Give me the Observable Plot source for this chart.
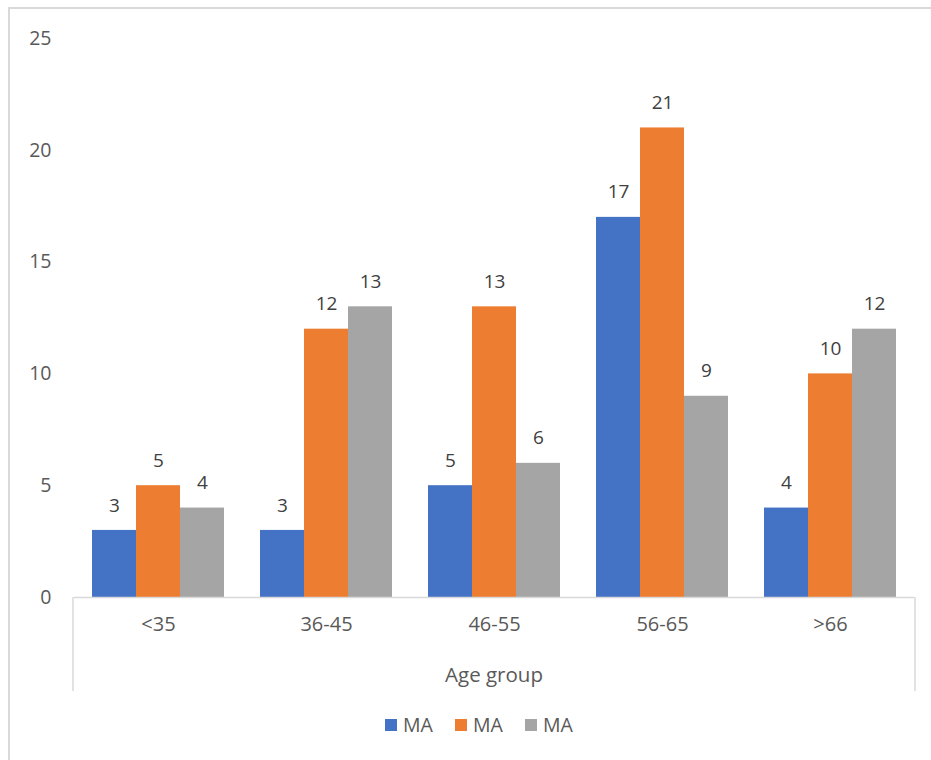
<!DOCTYPE html>
<html>
<head>
<meta charset="utf-8">
<script src="https://cdn.jsdelivr.net/npm/d3@7"></script>
<script src="https://cdn.jsdelivr.net/npm/@observablehq/plot@0.6"></script>
<style>
  html, body { margin: 0; padding: 0; background: #fff; }
  #wrap { position: relative; width: 931px; height: 760px; overflow: hidden; font-family: "Open Sans", sans-serif; }
  #border { position: absolute; left: 8px; top: 7px; width: 940px; height: 770px; border: 2px solid #d9d9d9; box-sizing: border-box; }
  #chart { position: absolute; left: 0; top: 0; }
  #legend { position: absolute; left: 385px; top: 711px; display: flex; align-items: center; font-size: 19.5px; color: #595959; }
  .item { display: flex; align-items: center; width: 70px; }
  .sw { width: 12px; height: 12px; margin-right: 6px; }
</style>
</head>
<body>
<div id="wrap">
  <div id="border"></div>
  <div id="chart"></div>
  <div id="legend"></div>
</div>
<script>
const categories = ["<35", "36-45", "46-55", "56-65", ">66"];
const seriesKeys = ["s1", "s2", "s3"];
const seriesLabels = ["MA", "MA", "MA"];
const series1 = [3, 3, 5, 17, 4];
const series2 = [5, 12, 13, 21, 10];
const series3 = [4, 13, 6, 9, 12];
const colors = ["#4472C4", "#ED7D31", "#A5A5A5"];
const yTicks = [0, 5, 10, 15, 20, 25];
const xTitle = "Age group";

const allSeries = [series1, series2, series3];
const data = [];
categories.forEach((c, i) => {
  seriesKeys.forEach((s, j) => {
    data.push({category: c, series: s, value: allSeries[j][i]});
  });
});

const W = 931, H = 700, mL = 73, mR = 16, mT = 38, mB = 103;

const plot = Plot.plot({
  width: W,
  height: H,
  marginLeft: mL,
  marginRight: mR,
  marginTop: mT,
  marginBottom: mB,
  style: {fontFamily: "'Open Sans', sans-serif", fontSize: "19px", color: "#595959", background: "transparent"},
  fx: {domain: categories, padding: 0, axis: null, label: null},
  x: {domain: seriesKeys, paddingInner: 0, paddingOuter: 0.371, axis: null},
  y: {domain: [0, 25], axis: null},
  color: {domain: seriesKeys, range: colors},
  marks: [
    Plot.axisY({ticks: yTicks, tickSize: 0, tickPadding: 23, label: null, fontSize: 19.5, fill: "#595959"}),
    Plot.axisFx({anchor: "bottom", tickSize: 0, tickPadding: 19, fontSize: 20, fill: "#595959", label: null}),
    Plot.barY(data, {fx: "category", x: "series", y: "value", fill: "series"}),
    Plot.text(data, {fx: "category", x: "series", y: "value", text: d => String(d.value), dy: -25, fill: "#404040", fontSize: 19}),
    Plot.ruleY([0], {stroke: "#d9d9d9", strokeWidth: 1.5})
  ]
});
document.getElementById("chart").appendChild(plot);

const svg = d3.select(plot);
// category-box side lines
[mL, W - mR].forEach(x => {
  svg.append("line").attr("x1", x).attr("x2", x).attr("y1", H - mB).attr("y2", H - mB + 94)
    .attr("stroke", "#d9d9d9").attr("stroke-width", 1.5);
});
// axis title
svg.append("text")
  .attr("x", (mL + W - mR) / 2)
  .attr("y", H - mB + 80)
  .attr("text-anchor", "middle")
  .attr("dominant-baseline", "middle")
  .attr("fill", "#595959")
  .attr("font-size", 20.5)
  .text(xTitle);

const legend = document.getElementById("legend");
seriesKeys.forEach((s, j) => {
  const it = document.createElement("div");
  it.className = "item";
  const sw = document.createElement("div");
  sw.className = "sw";
  sw.style.background = colors[j];
  const t = document.createElement("span");
  t.textContent = seriesLabels[j];
  it.appendChild(sw);
  it.appendChild(t);
  legend.appendChild(it);
});
</script>
</body>
</html>
